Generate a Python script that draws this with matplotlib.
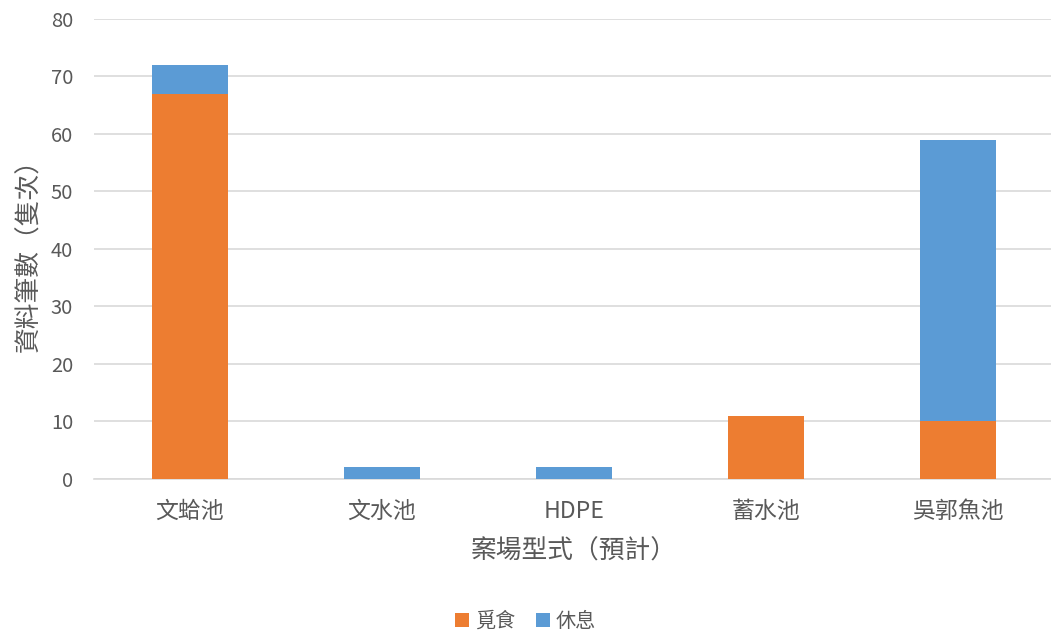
import matplotlib
matplotlib.use("Agg")
import matplotlib.pyplot as plt
import numpy as np

plt.rcParams['font.family'] = ['Noto Sans CJK TC', 'DejaVu Sans']

categories = ['文蛤池', '文水池', 'HDPE', '蓄水池', '吳郭魚池']
foraging = [67, 0, 0, 11, 10]   # 覓食
resting = [5, 2, 2, 0, 49]      # 休息
series_names = ['覓食', '休息']
colors = ['#ED7D31', '#5B9BD5']

fig = plt.figure(figsize=(10.51, 6.33), dpi=100)
ax = fig.add_axes([0.0894, 0.2433, 0.9134, 0.7267])

x = np.arange(len(categories))
w = 0.4
ax.bar(x, foraging, w, color=colors[0], label=series_names[0], zorder=3)
ax.bar(x, resting, w, bottom=foraging, color=colors[1], label=series_names[1], zorder=3)

ax.set_xlim(-0.5, len(categories) - 0.5)
ax.set_ylim(0, 80)
ax.set_yticks(range(0, 81, 10))
ax.yaxis.grid(True, color='#D9D9D9', linewidth=1.2, zorder=0)
ax.set_axisbelow(True)
for s in ['top', 'right', 'left']:
    ax.spines[s].set_visible(False)
ax.spines['bottom'].set_color('#D9D9D9')
ax.spines['bottom'].set_linewidth(1.2)
ax.tick_params(axis='both', length=0, colors='#595959')
ax.tick_params(axis='y', pad=15, labelsize=14.5)
ax.tick_params(axis='x', pad=15, labelsize=16.5)
ax.set_xticks(x)
ax.set_xticklabels(categories)

ax.set_xlabel('案場型式（預計）', fontsize=18.5, color='#595959', labelpad=11)
ax.set_ylabel('資料筆數（隻次）', fontsize=18.5, color='#595959', labelpad=6)

leg = fig.legend(loc='center', bbox_to_anchor=(0.5, 0.018), ncol=2, frameon=False,
                 fontsize=14.5, handlelength=0.7, handleheight=0.7, handletextpad=0.3,
                 columnspacing=1.0, labelcolor='#595959')

fig.savefig('out.png', dpi=100, facecolor='white')
